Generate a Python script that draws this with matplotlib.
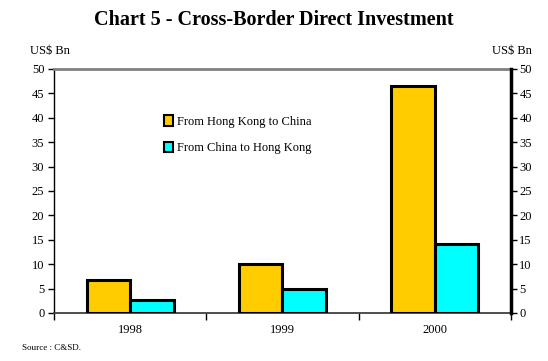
import matplotlib
matplotlib.use("Agg")
import matplotlib.pyplot as plt
from matplotlib.patches import Patch

years = ["1998", "1999", "2000"]
hk_to_china = [6.8, 10.0, 46.5]
china_to_hk = [2.6, 5.0, 14.2]
series_labels = ["From Hong Kong to China", "From China to Hong Kong"]
yticks = [0, 5, 10, 15, 20, 25, 30, 35, 40, 45, 50]

plt.rcParams['font.family'] = ['Liberation Serif', 'DejaVu Serif']

fig = plt.figure(figsize=(5.48, 3.61), dpi=100)
ax = fig.add_axes([0.0985, 0.133, 0.834, 0.676])

x = list(range(len(years)))
w = 0.285
ax.bar([i - w / 2 for i in x], hk_to_china, width=w, color="#FFCC00",
       edgecolor="black", linewidth=2.2, zorder=3)
ax.bar([i + w / 2 for i in x], china_to_hk, width=w, color="#00FFFF",
       edgecolor="black", linewidth=2.2, zorder=3)

ax.set_xlim(-0.5, 2.5)
ax.set_ylim(0, 50)
ax.set_yticks(yticks)
ax.set_yticklabels([str(v) for v in yticks], fontsize=9)
ax.set_xticks([-0.5, 0.5, 1.5, 2.5])
ax.set_xticklabels([])
ax.set_xticks(x, minor=True)
ax.set_xticklabels(years, minor=True, fontsize=9)
ax.tick_params(axis='x', which='major', length=5, width=1, direction='out')
ax.tick_params(axis='x', which='minor', length=0, pad=8)
ax.tick_params(axis='y', length=4, width=1, direction='out', pad=3)

ax.spines['top'].set_color('#808080')
ax.spines['top'].set_linewidth(2)
ax.spines['left'].set_color('black')
ax.spines['left'].set_linewidth(1)
ax.spines['bottom'].set_color('#404040')
ax.spines['bottom'].set_linewidth(1.3)
ax.spines['right'].set_visible(False)

ax2 = ax.twinx()
ax2.set_ylim(0, 50)
ax2.set_yticks(yticks)
ax2.set_yticklabels([str(v) for v in yticks], fontsize=9)
ax2.tick_params(axis='y', length=4, width=1, direction='out', pad=2)
for s in ['top', 'left', 'bottom']:
    ax2.spines[s].set_visible(False)
ax2.spines['right'].set_color('black')
ax2.spines['right'].set_linewidth(2.5)

handles = [Patch(facecolor="#FFCC00", edgecolor="black", linewidth=1.5),
           Patch(facecolor="#00FFFF", edgecolor="black", linewidth=1.5)]
ax.legend(handles, series_labels, loc='upper left', bbox_to_anchor=(0.23, 0.83),
          frameon=False, fontsize=9, handlelength=0.7, handleheight=0.9,
          handletextpad=0.3, labelspacing=1.1, borderaxespad=0)

fig.text(0.5, 0.945, "Chart 5 - Cross-Border Direct Investment", ha='center',
         va='center', fontsize=14.5, fontweight='bold')
fig.text(0.055, 0.86, "US$ Bn", ha='left', va='center', fontsize=9)
fig.text(0.97, 0.86, "US$ Bn", ha='right', va='center', fontsize=9)
fig.text(0.04, 0.037, "Source : C&SD.", ha='left', va='center', fontsize=6.5)

fig.savefig("out.png", dpi=100)
